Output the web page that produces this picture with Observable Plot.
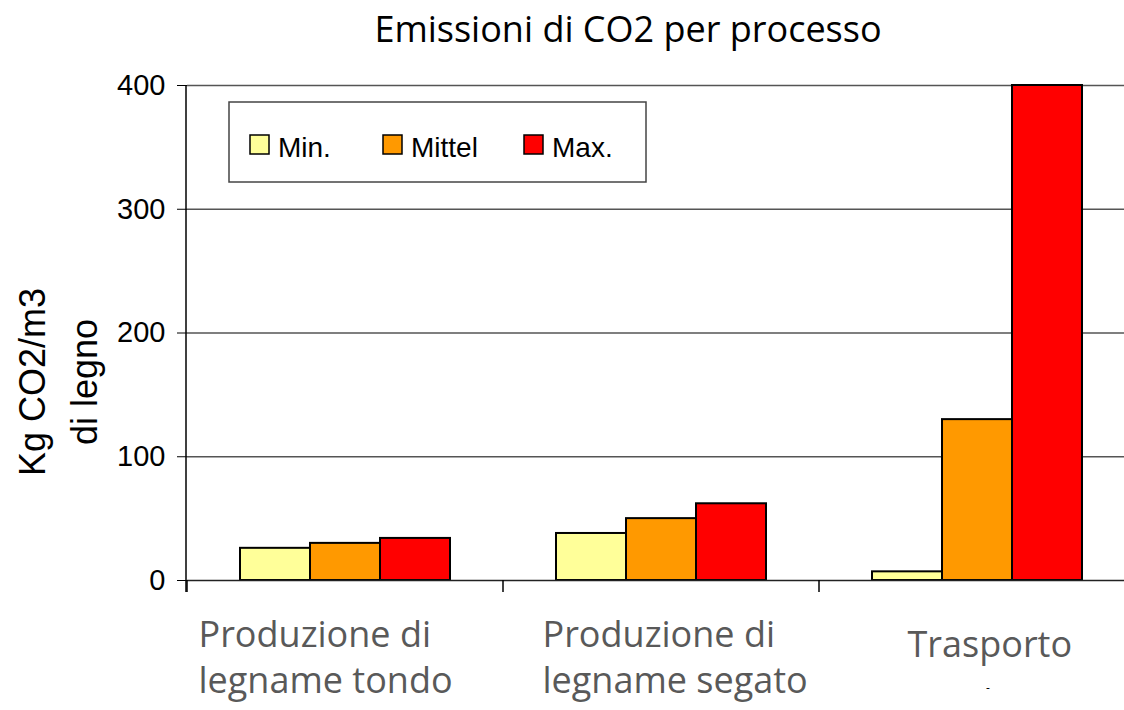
<!DOCTYPE html>
<html>
<head>
<meta charset="utf-8">
<script src="https://cdn.jsdelivr.net/npm/d3@7"></script>
<script src="https://cdn.jsdelivr.net/npm/@observablehq/plot@0.6"></script>
<style>
  html, body { margin: 0; padding: 0; background: #fff; overflow: hidden; }
  #chart { position: relative; width: 1124px; height: 710px; }
</style>
</head>
<body>
<div id="chart"></div>
<script>
const titleText = "Emissioni di CO2 per processo";
const yLabelLines = ["Kg CO2/m3", "di legno"];
const categories = ["Produzione di legname tondo", "Produzione di legname segato", "Trasporto"];
const categoryLabels = ["Produzione di\nlegname tondo", "Produzione di\nlegname segato", "Trasporto"];
const series = ["Min.", "Mittel", "Max."];
const minValues = [26, 38, 7];
const mittelValues = [30, 50, 130];
const maxValues = [34, 62, 400];
const seriesColors = ["#FFFF99", "#FF9900", "#FF0000"];
const yTicks = [0, 100, 200, 300, 400];
const gridTicks = [100, 200, 300, 400];

const valuesBySeries = [minValues, mittelValues, maxValues];
const data = categories.flatMap((c, i) =>
  series.map((s, j) => ({category: c, series: s, value: valuesBySeries[j][i]}))
);
const labelData = categories.map((c, i) => ({category: c, label: categoryLabels[i]}));

const W = 1124, H = 710;
const mL = 186, mT = 85, mB = 130, mR = -12;

const labelFont = "Open Sans, sans-serif";
const labelStyle = {fx: "category", text: "label", frameAnchor: "bottom-left", textAnchor: "start", lineAnchor: "top", fontSize: 36, lineHeight: 1.27, fill: "#595959", fontFamily: labelFont};

const plot = Plot.plot({
  width: W,
  height: H,
  marginLeft: mL,
  marginTop: mT,
  marginBottom: mB,
  marginRight: mR,
  style: {background: "transparent", overflow: "visible"},
  fx: {domain: categories, padding: 0, axis: null},
  x: {domain: series, paddingInner: 0, paddingOuter: 0.73, axis: null},
  y: {domain: [0, 400], axis: null},
  color: {domain: series, range: seriesColors},
  marks: [
    Plot.ruleY(gridTicks, {stroke: "#555", strokeWidth: 1.3}),
    Plot.barY(data, {fx: "category", x: "series", y: "value", fill: "series", stroke: "#000", strokeWidth: 2}),
    Plot.ruleY([0], {stroke: "#222", strokeWidth: 1.5}),
    Plot.axisY({ticks: yTicks, tickSize: 10, tickPadding: 12, fontSize: 29, fontFamily: "Liberation Sans, Arial, sans-serif", fill: "#000", label: null, color: "#000"}),
    Plot.text(labelData.filter(d => d.category === categories[0]), {...labelStyle, dx: 11, dy: 34}),
    Plot.text(labelData.filter(d => d.category === categories[1]), {...labelStyle, dx: 39, dy: 34}),
    Plot.text(labelData.filter(d => d.category === categories[2]), {...labelStyle, dx: 88, dy: 44})
  ]
});

document.getElementById("chart").appendChild(plot);

const svg = d3.select(plot);
const ys = plot.scale("y");
const fxs = plot.scale("fx");
const y0 = ys.apply(0), yTop = ys.apply(400);

// y axis line
svg.append("line")
  .attr("x1", mL).attr("x2", mL)
  .attr("y1", yTop).attr("y2", y0 + 12)
  .attr("stroke", "#000").attr("stroke-width", 1.5);
// category boundary ticks
categories.forEach(c => {
  const x = fxs.apply(c);
  svg.append("line")
    .attr("x1", x).attr("x2", x)
    .attr("y1", y0).attr("y2", y0 + 12)
    .attr("stroke", "#000").attr("stroke-width", 1.5);
});

// small dash under "Trasporto"
svg.append("text")
  .attr("x", fxs.apply(categories[2]) + fxs.bandwidth / 2 + 11)
  .attr("y", 692)
  .attr("text-anchor", "middle")
  .attr("font-family", labelFont)
  .attr("font-size", 12)
  .attr("fill", "#000")
  .text("-");

// title
svg.append("text")
  .attr("x", 628).attr("y", 42)
  .attr("text-anchor", "middle")
  .attr("font-family", "Open Sans, sans-serif")
  .attr("font-size", 36)
  .attr("fill", "#000")
  .text(titleText);

// y label
const yl = svg.append("text")
  .attr("transform", `translate(0, 382) rotate(-90)`)
  .attr("text-anchor", "middle")
  .attr("font-family", "Liberation Sans, Arial, sans-serif")
  .attr("font-size", 36)
  .attr("fill", "#000");
yl.append("tspan").attr("x", 0).attr("y", 45).text(yLabelLines[0]);
yl.append("tspan").attr("x", 0).attr("y", 97).text(yLabelLines[1]);

// legend
const lg = svg.append("g").attr("transform", "translate(229,102)");
lg.append("rect").attr("width", 417).attr("height", 80)
  .attr("fill", "#fff").attr("stroke", "#444").attr("stroke-width", 1.5);
const legendX = [21, 154, 295];
series.forEach((s, j) => {
  lg.append("rect")
    .attr("x", legendX[j]).attr("y", 33)
    .attr("width", 19).attr("height", 19)
    .attr("fill", seriesColors[j]).attr("stroke", "#000").attr("stroke-width", 1.5);
  lg.append("text")
    .attr("x", legendX[j] + 28).attr("y", 55)
    .attr("text-anchor", "start")
    .attr("font-family", "Liberation Sans, Arial, sans-serif")
    .attr("font-size", 28)
    .attr("fill", "#000")
    .text(s);
});
</script>
</body>
</html>
